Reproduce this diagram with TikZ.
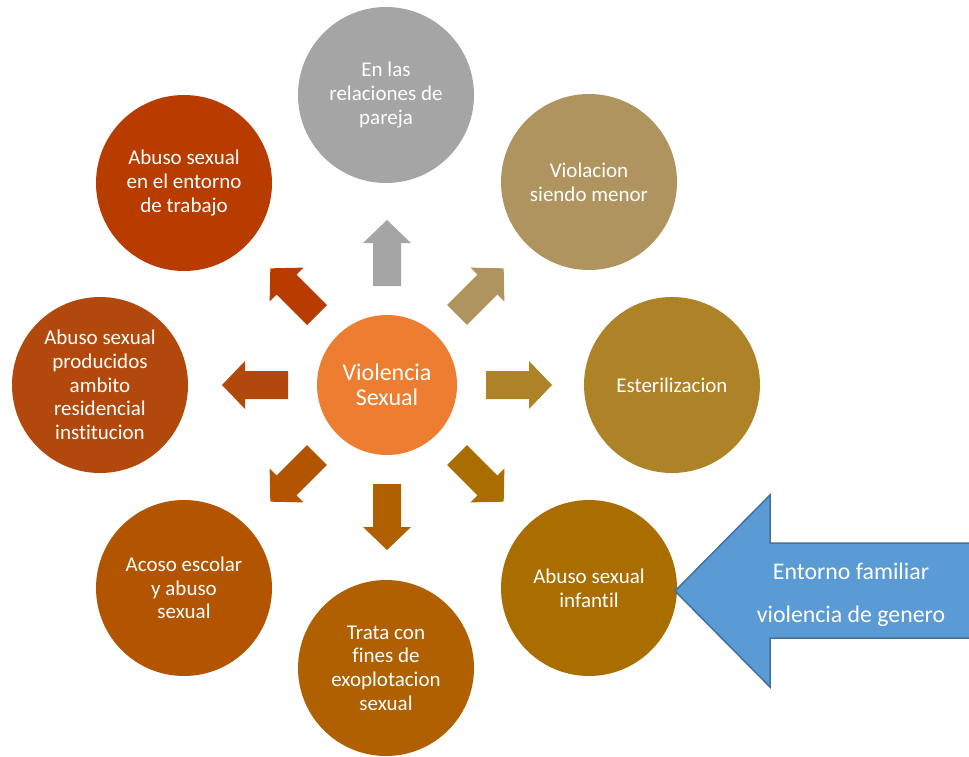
\documentclass[tikz,border=0pt]{standalone}
\usepackage{fontspec}
\setmainfont[Ligatures=NoCommon]{Carlito}
\definecolor{cCenter}{HTML}{ED7D31}
\definecolor{cN}{HTML}{A5A5A5}
\definecolor{cNE}{HTML}{B09460}
\definecolor{cE}{HTML}{AE8226}
\definecolor{cSE}{HTML}{AA6D00}
\definecolor{cS}{HTML}{B06000}
\definecolor{cSW}{HTML}{B35400}
\definecolor{cW}{HTML}{B3480C}
\definecolor{cNW}{HTML}{B83B00}
\definecolor{blueF}{HTML}{5B9BD5}
\definecolor{blueD}{HTML}{41719C}
\newcommand{\blkarrow}[2]{\fill[#2, shift={(387,385)}, rotate=#1] (99,-14) -- (142,-14) -- (142,-24) -- (165,0) -- (142,24) -- (142,14) -- (99,14) -- cycle;}
\begin{document}
\begin{tikzpicture}[x=1pt,y=-1pt]
\useasboundingbox (0,0) rectangle (969,756);
\tikzset{bubble/.style={circle, minimum size=176pt, inner sep=0pt, text=white, align=center, font=\fontsize{21}{23.7}\selectfont}}
\node[circle, minimum size=140pt, inner sep=0pt, fill=cCenter, text=white, align=center, font=\fontsize{24}{25}\selectfont] (center) at (387,385) {Violencia\\Sexual};
\node[bubble, fill=cN] (n) at (386,95) {En las\\relaciones de\\pareja};
\node[bubble, fill=cNE] (ne) at (589,182) {Violacion\\siendo menor};
\node[bubble, fill=cE] (e) at (672,385) {Esterilizacion};
\node[bubble, fill=cSE] (se) at (589,588) {Abuso sexual\\infantil};
\node[bubble, fill=cS] (s) at (386,668) {Trata con\\fines de\\exoplotacion\\sexual};
\node[bubble, fill=cSW] (sw) at (184,588) {Acoso escolar\\y abuso\\sexual};
\node[bubble, fill=cW] (w) at (100,385) {Abuso sexual\\producidos\\ambito\\residencial\\institucion};
\node[bubble, fill=cNW] (nw) at (184,183) {Abuso sexual\\en el entorno\\de trabajo};
\blkarrow{90}{cN}
\blkarrow{45}{cNE}
\blkarrow{0}{cE}
\blkarrow{-45}{cSE}
\blkarrow{-90}{cS}
\blkarrow{-135}{cSW}
\blkarrow{180}{cW}
\blkarrow{135}{cNW}
\draw[fill=blueF, draw=blueD, line width=1.5pt] (675,591) -- (770,495) -- (770,543) -- (975,543) -- (975,638) -- (770,638) -- (770,687) -- cycle;
\node[text=white, align=center, font=\fontsize{23.8}{43}\selectfont] (lbl) at (851,595) {Entorno familiar\\violencia de genero};
\end{tikzpicture}
\end{document}
